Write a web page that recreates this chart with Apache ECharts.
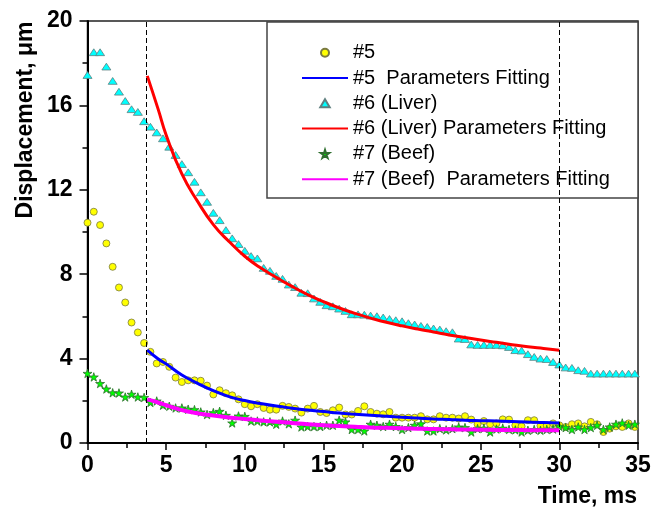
<!DOCTYPE html>
<html>
<head>
<meta charset="utf-8">
<script src="https://cdn.jsdelivr.net/npm/echarts@6/dist/echarts.min.js"></script>
<style>
  html, body { margin: 0; padding: 0; background: #fff; }
  #chart { width: 667px; height: 510px; }
</style>
</head>
<body>
<div id="chart"></div>
<script>
// sample times (ms) of the measured points
const sampleTime = [
  0, 0.4, 0.8, 1.2, 1.6, 2.0, 2.4, 2.8, 3.2, 3.6, 4.0, 4.4, 4.8, 5.2, 5.6, 6.0, 6.4, 6.8, 7.2, 7.6,
  8.0, 8.4, 8.8, 9.2, 9.6, 10.0, 10.4, 10.8, 11.2, 11.6, 12.0, 12.4, 12.8, 13.2, 13.6, 14.0, 14.4, 14.8, 15.2, 15.6,
  16.0, 16.4, 16.8, 17.2, 17.6, 18.0, 18.4, 18.8, 19.2, 19.6, 20.0, 20.4, 20.8, 21.2, 21.6, 22.0, 22.4, 22.8, 23.2, 23.6,
  24.0, 24.4, 24.8, 25.2, 25.6, 26.0, 26.4, 26.8, 27.2, 27.6, 28.0, 28.4, 28.8, 29.2, 29.6, 30.0, 30.4, 30.8, 31.2, 31.6,
  32.0, 32.4, 32.8, 33.2, 33.6, 34.0, 34.4, 34.8
];

// #5
const s5 = [
  10.44, 10.96, 10.33, 9.46, 8.35, 7.37, 6.66, 5.71, 5.24, 4.74, 4.32, 3.77, 3.84, 3.61, 3.10, 2.89, 2.97, 2.97, 2.95, 2.72,
  2.30, 2.50, 2.36, 2.26, 2.07, 1.84, 1.74, 1.84, 1.66, 1.58, 1.58, 1.76, 1.71, 1.63, 1.44, 1.63, 1.76, 1.47, 1.42, 1.55,
  1.68, 1.35, 1.35, 1.52, 1.74, 1.47, 1.39, 1.36, 1.47, 1.20, 1.20, 1.20, 1.20, 1.27, 1.12, 1.12, 1.27, 1.20, 1.20, 1.16,
  1.27, 1.11, 0.89, 1.04, 0.89, 0.93, 1.12, 1.11, 0.84, 0.79, 1.08, 1.08, 0.82, 0.84, 0.93, 0.84, 0.76, 0.89, 0.93, 0.79,
  1.00, 0.89, 0.52, 0.68, 0.79, 0.76, 0.93, 0.76
];

// #6 (Liver)
const s6 = [
  17.44, 18.52, 18.52, 17.84, 17.16, 16.65, 16.21, 15.82, 15.69, 15.25, 14.99, 14.72, 14.44, 14.04, 13.65, 13.22, 12.83, 12.38, 11.88, 11.43,
  10.91, 10.56, 10.09, 9.70, 9.43, 9.11, 8.86, 8.75, 8.30, 8.16, 7.92, 7.78, 7.51, 7.39, 7.12, 7.10, 6.85, 6.69, 6.53, 6.48,
  6.37, 6.26, 6.10, 6.10, 6.08, 6.04, 6.01, 5.95, 5.88, 5.82, 5.77, 5.68, 5.62, 5.55, 5.50, 5.43, 5.38, 5.30, 5.25, 4.95,
  4.93, 4.67, 4.65, 4.65, 4.65, 4.65, 4.63, 4.55, 4.40, 4.38, 4.21, 4.08, 4.00, 3.98, 3.84, 3.72, 3.58, 3.56, 3.45, 3.42,
  3.29, 3.29, 3.29, 3.29, 3.29, 3.29, 3.29, 3.29
];

// #7 (Beef)
const s7 = [
  3.30, 3.13, 2.82, 2.56, 2.38, 2.37, 2.18, 2.31, 2.18, 2.16, 1.92, 1.99, 1.79, 1.74, 1.66, 1.66, 1.60, 1.58, 1.47, 1.35,
  1.44, 1.50, 1.31, 0.95, 1.28, 1.26, 1.04, 1.04, 1.00, 1.00, 0.89, 1.04, 0.91, 1.08, 0.76, 0.78, 0.78, 0.78, 0.84, 0.84,
  1.08, 1.00, 0.64, 0.64, 0.57, 0.89, 0.84, 0.78, 0.89, 0.78, 0.64, 0.73, 0.84, 0.91, 0.57, 0.57, 0.68, 0.62, 0.68, 0.76,
  0.73, 0.52, 0.68, 0.70, 0.52, 0.66, 0.70, 0.64, 0.62, 0.52, 0.60, 0.64, 0.60, 0.64, 0.66, 0.79, 0.73, 0.64, 0.76, 0.64,
  0.73, 0.84, 0.64, 0.76, 0.89, 0.95, 0.84, 0.89
];

// parameter fitting curves
const fitTime = [3.8, 4.5, 5, 6, 7, 8, 9, 10, 11, 12, 13, 14, 15, 16, 17, 18, 19, 20, 21, 22, 23, 24, 25, 26, 27, 28, 29, 30];
const fit5 = [4.40, 3.98, 3.75, 3.22, 2.83, 2.48, 2.20, 2.01, 1.87, 1.75, 1.65, 1.56, 1.49, 1.42, 1.36, 1.31, 1.27, 1.22, 1.18, 1.14, 1.11, 1.08, 1.06, 1.04, 1.02, 1.00, 0.97, 0.95];
const fit6 = [17.4, 15.8, 14.6, 12.75, 11.45, 10.35, 9.55, 8.85, 8.3, 7.85, 7.42, 7.03, 6.7, 6.4, 6.14, 5.92, 5.72, 5.55, 5.4, 5.26, 5.12, 5.0, 4.88, 4.77, 4.66, 4.56, 4.48, 4.40];
const fit7 = [2.07, 1.92, 1.79, 1.56, 1.41, 1.30, 1.21, 1.14, 1.07, 1.01, 0.95, 0.89, 0.84, 0.80, 0.77, 0.74, 0.72, 0.70, 0.68, 0.66, 0.65, 0.64, 0.63, 0.62, 0.62, 0.61, 0.60, 0.60];

// fitting window markers
const windowLines = [3.75, 30];

const FONT = '"Liberation Sans", Arial, sans-serif';
const TRIANGLE = 'path://M5,0L10,8.5L0,8.5Z';
const STAR = 'path://M50,0L61,35L98,35L68,57L79,91L50,70L21,91L32,57L2,35L39,35Z';

const pairs = (xs, ys) => xs.map((x, i) => [x, ys[i]]);
// legend entry of a fit: only the line, no dot in the middle
const lineOnly = name => ({ name, itemStyle: { color: 'rgba(0,0,0,0)', borderWidth: 0, opacity: 0 } });

const chart = echarts.init(document.getElementById('chart'));

chart.setOption({
  animation: false,
  backgroundColor: '#fff',
  grid: {
    left: 87.5, right: 29, top: 21, bottom: 67,
    show: true, borderColor: '#222', borderWidth: 1.5,
    outerBoundsMode: 'none'
  },
  xAxis: {
    type: 'value', min: 0, max: 35, interval: 5,
    axisLine: { lineStyle: { color: '#000', width: 2 } },
    axisTick: { inside: false, length: 7, lineStyle: { color: '#000', width: 1.5 } },
    minorTick: { show: true, splitNumber: 2, length: 5, lineStyle: { color: '#000', width: 1.5 } },
    splitLine: { show: false },
    axisLabel: { color: '#000', fontSize: 23, fontWeight: 'bold', fontFamily: FONT, margin: 11 }
  },
  yAxis: {
    type: 'value', min: 0, max: 20, interval: 4,
    axisLine: { lineStyle: { color: '#000', width: 2 } },
    axisTick: { inside: false, length: 8, lineStyle: { color: '#000', width: 1.5 } },
    minorTick: { show: true, splitNumber: 2, length: 5, lineStyle: { color: '#000', width: 1.5 } },
    splitLine: { show: false },
    axisLabel: { color: '#000', fontSize: 23, fontWeight: 'bold', fontFamily: FONT, margin: 15 }
  },
  legend: {
    orient: 'vertical',
    left: 301, top: 42.7,
    padding: 0,
    itemWidth: 46, itemHeight: 8, itemGap: 5.3,
    z: 10,
    textStyle: { color: '#000', fontSize: 20, fontFamily: FONT, lineHeight: 20 },
    data: [
      '#5', lineOnly('#5  Parameters Fitting'),
      '#6 (Liver)', lineOnly('#6 (Liver) Parameters Fitting'),
      '#7 (Beef)', lineOnly('#7 (Beef)  Parameters Fitting')
    ]
  },
  graphic: [
    {
      type: 'rect', z: 5,
      shape: { x: 267, y: 22, width: 371, height: 176 },
      style: { fill: '#fff', stroke: '#444', lineWidth: 1.5 }
    },
    {
      type: 'text', x: 637, y: 497,
      style: { text: 'Time, ms', align: 'right', verticalAlign: 'middle', fill: '#000', fontSize: 23, fontWeight: 'bold', fontFamily: FONT }
    },
    {
      type: 'text', x: 26, y: 120, rotation: Math.PI / 2,
      style: { text: 'Displacement, μm', align: 'center', verticalAlign: 'middle', fill: '#000', fontSize: 23, fontWeight: 'bold', fontFamily: FONT }
    }
  ],
  series: [
    {
      name: '#5', type: 'scatter', z: 2,
      symbol: 'circle', symbolSize: 7,
      itemStyle: { color: '#ffff00', borderColor: '#7a7a40', borderWidth: 0.8, opacity: 1 },
      data: pairs(sampleTime, s5)
    },
    {
      name: '#5  Parameters Fitting', type: 'line', z: 3,
      smooth: true, symbol: 'none',
      lineStyle: { color: '#0000ff', width: 3 },
      itemStyle: { color: '#0000ff' },
      data: pairs(fitTime, fit5)
    },
    {
      name: '#6 (Liver)', type: 'scatter', z: 2,
      symbol: TRIANGLE, symbolSize: [9, 8], symbolKeepAspect: true,
      itemStyle: { color: '#00ffff', borderColor: '#5f7f7f', borderWidth: 0.8, opacity: 1 },
      data: pairs(sampleTime, s6),
      markLine: {
        silent: true, symbol: ['none', 'none'],
        label: { show: false },
        lineStyle: { color: '#000', type: [5, 3], width: 1 },
        data: windowLines.map(v => ({ xAxis: v }))
      }
    },
    {
      name: '#6 (Liver) Parameters Fitting', type: 'line', z: 3,
      smooth: true, symbol: 'none',
      lineStyle: { color: '#ff0000', width: 3 },
      itemStyle: { color: '#ff0000' },
      data: pairs(fitTime, fit6)
    },
    {
      name: '#7 (Beef)', type: 'scatter', z: 2,
      symbol: STAR, symbolSize: 9, symbolKeepAspect: true,
      itemStyle: { color: '#00ff00', borderColor: '#2f6f2f', borderWidth: 0.8, opacity: 1 },
      data: pairs(sampleTime, s7)
    },
    {
      name: '#7 (Beef)  Parameters Fitting', type: 'line', z: 3,
      smooth: true, symbol: 'none',
      lineStyle: { color: '#ff00ff', width: 4 },
      itemStyle: { color: '#ff00ff' },
      data: pairs(fitTime, fit7)
    }
  ]
});
</script>
</body>
</html>
